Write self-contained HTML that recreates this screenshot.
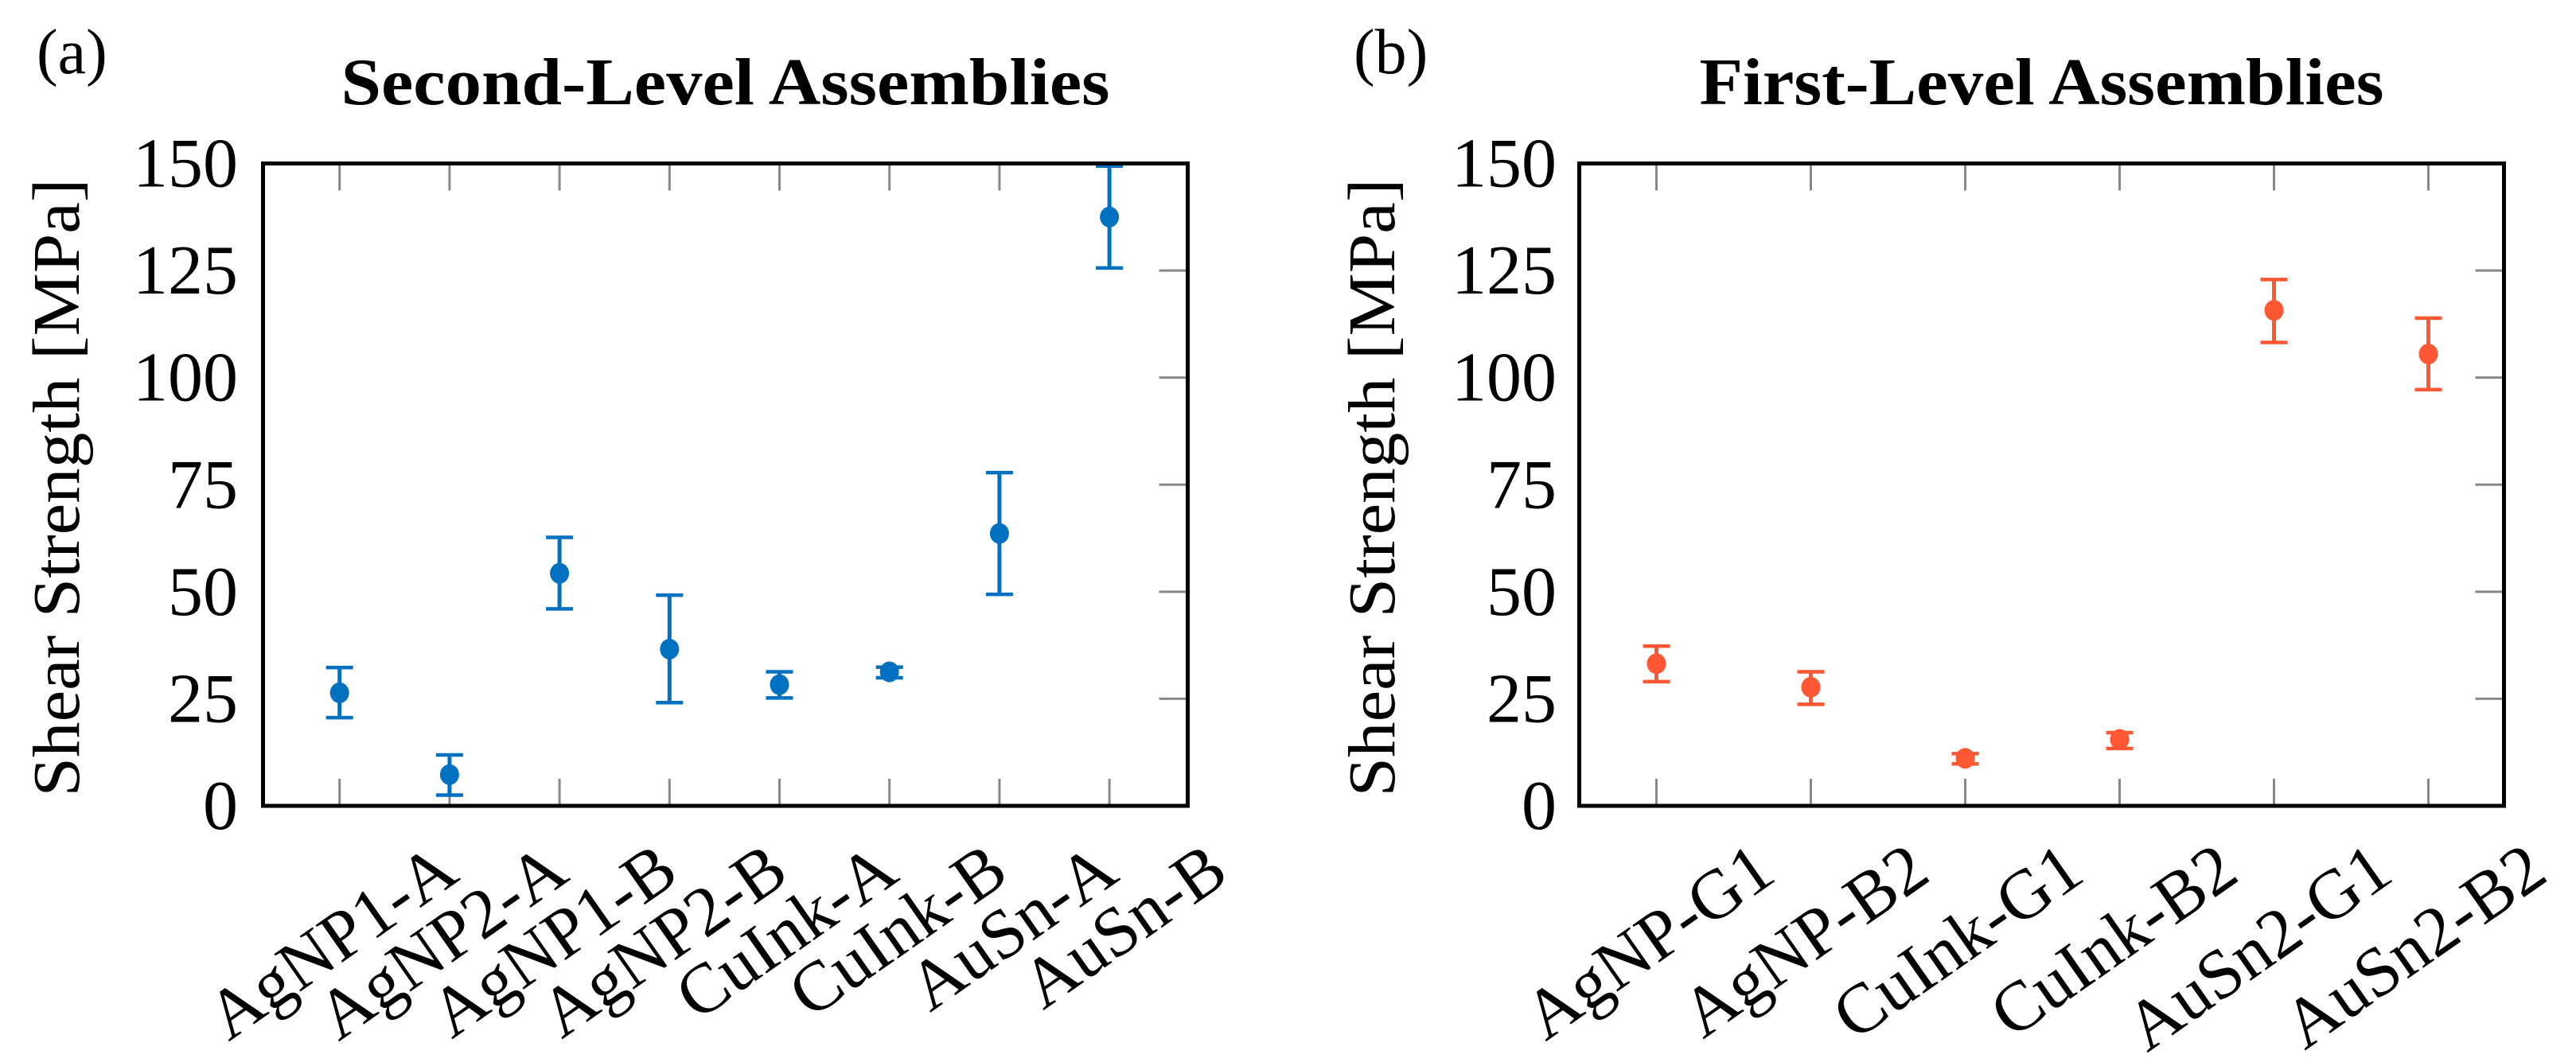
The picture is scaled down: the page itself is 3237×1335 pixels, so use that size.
<!DOCTYPE html>
<html><head><meta charset="utf-8"><style>
html,body{margin:0;padding:0;background:#fff;}
svg{display:block;font-family:"Liberation Serif",serif;}
</style></head><body>
<svg id="fig" width="3237" height="1335" viewBox="0 0 3237 1335" xmlns="http://www.w3.org/2000/svg">
<g id="pa"></g>
<g id="pb"></g>
</svg>
<script>
const catsA = ["AgNP1-A","AgNP2-A","AgNP1-B","AgNP2-B","CuInk-A","CuInk-B","AuSn-A","AuSn-B"];
const meanA = [26.4,7.3,54.3,36.6,28.3,31.3,63.6,137.5];
const hiA = [32.3,11.9,62.7,49.2,31.3,32.4,77.8,149.4];
const loA = [20.6,2.5,46.0,24.1,25.2,29.9,49.4,125.6];
const catsB = ["AgNP-G1","AgNP-B2","CuInk-G1","CuInk-B2","AuSn2-G1","AuSn2-B2"];
const meanB = [33.2,27.7,11.1,15.5,115.7,105.5];
const hiB = [37.3,31.3,12.2,17.1,122.9,113.9];
const loB = [29.0,23.7,9.8,13.4,108.2,97.2];
const yTicks = [0,25,50,75,100,125,150];

const NS="http://www.w3.org/2000/svg";
function mk(parent,tag,attrs,text){const e=document.createElementNS(NS,tag);for(const k in attrs)e.setAttribute(k,attrs[k]);if(text!==undefined)e.textContent=text;parent.appendChild(e);return e;}

function panel(g,cfg,cats,mean,hi,lo){
  const {x0,x1,y0,y1,first,step,color,title,titleLen,label,lx,ytl,ytx,key}=cfg;
  const yS=v=>y1-(v/150)*(y1-y0);
  const xS=i=>first+i*step;
  let t=mk(g,'text',{x:lx,y:92,'font-size':80});t.textContent=label;
  
  
  t=mk(g,'text',{x:(x0+x1)/2,y:131,'font-size':84,'font-weight':'bold','text-anchor':'middle',textLength:titleLen,lengthAdjust:'spacingAndGlyphs'});t.textContent=title;
  
  
  t=mk(g,'text',{x:ytx,y:613,'font-size':84,'text-anchor':'middle',transform:`rotate(-90 ${ytx} 613)`,textLength:777,lengthAdjust:'spacingAndGlyphs'});t.textContent="Shear Strength [MPa]";
  
  
  yTicks.forEach(v=>{
    const y=yS(v);
    let tl=mk(g,'text',{x:ytl,y:y+29,'font-size':88,'text-anchor':'end'});tl.textContent=String(v);
    
    
    if(v>0&&v<150){let tk=mk(g,'line',{x1:x1-36,x2:x1,y1:y,y2:y,stroke:'#888',"stroke-width":3});
    
    }
  });
  cats.forEach((c,i)=>{
    const x=xS(i);
    let a=mk(g,'line',{x1:x,x2:x,y1:y0,y2:y0+34,stroke:'#888','stroke-width':3});
    
    
    a=mk(g,'line',{x1:x,x2:x,y1:y1-34,y2:y1,stroke:'#888','stroke-width':3});
    
    
    const ex=x+153,ey=1105;
    let tl=mk(g,'text',{x:ex,y:ey,'font-size':88,'text-anchor':'end',transform:`rotate(-35 ${ex} ${ey})`});tl.textContent=c;
    
    
    const eg=mk(g,'g',{});
    
    
    mk(eg,'line',{x1:x,x2:x,y1:yS(hi[i]),y2:yS(lo[i]),stroke:color,'stroke-width':5});
    mk(eg,'line',{x1:x-17,x2:x+17,y1:yS(hi[i]),y2:yS(hi[i]),stroke:color,'stroke-width':4.5});
    mk(eg,'line',{x1:x-17,x2:x+17,y1:yS(lo[i]),y2:yS(lo[i]),stroke:color,'stroke-width':4.5});
    mk(eg,'ellipse',{cx:x,cy:yS(mean[i]),rx:12,ry:13,fill:color});
  });
  const fr=mk(g,'rect',{x:x0,y:y0,width:x1-x0,height:y1-y0,fill:'none',stroke:'#000','stroke-width':5});
  
  
}
panel(document.getElementById('pa'),{x0:330.5,x1:1492.5,y0:205.5,y1:1013,first:426.7,step:138.2,color:'#0070C0',title:'Second-Level Assemblies',titleLen:966,label:'(a)',lx:46,ytl:299,ytx:99,key:'a'},catsA,meanA,hiA,loA);
panel(document.getElementById('pb'),{x0:1984.5,x1:3146.5,y0:205.5,y1:1013,first:2081.5,step:194,color:'#FF5733',title:'First-Level Assemblies',titleLen:860,label:'(b)',lx:1701,ytl:1956,ytx:1752,key:'b'},catsB,meanB,hiB,loB);
</script>
</body></html>
